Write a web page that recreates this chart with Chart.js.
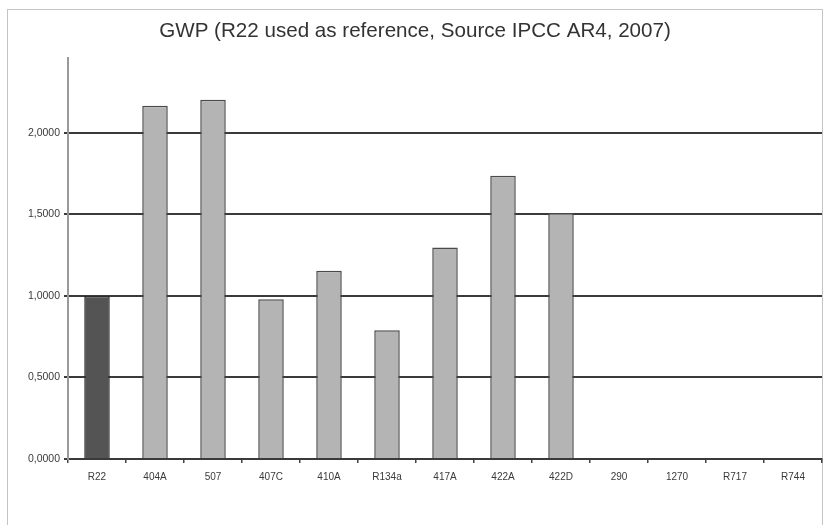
<!DOCTYPE html>
<html>
<head>
<meta charset="utf-8">
<script src="https://cdn.jsdelivr.net/npm/chart.js@4.4.0/dist/chart.umd.min.js"></script>
<style>
    html, body { margin: 0; padding: 0; background: #fff; overflow: hidden; }
    #wrap { position: relative; width: 832px; height: 525px; }
    #frame {
        position: absolute; left: 7px; top: 9px; width: 814px; height: 600px;
        border: 1.5px solid #c4c4c4; border-bottom: none;
    }
    #chart { position: absolute; left: 0; top: 0; }
</style>
</head>
<body>
<div id="wrap">
    <div id="frame"></div>
    <canvas id="chart" width="832" height="525"></canvas>
</div>
<script>
// Refrigerants, GWP relative to R22
const categories = ['R22', '404A', '507', '407C', '410A', 'R134a', '417A', '422A', '422D', '290', '1270', 'R717', 'R744'];
const gwpValues = [1.0, 2.166, 2.202, 0.98, 1.154, 0.79, 1.296, 1.736, 1.508, 0, 0, 0, 0];
const yTicks = [0, 0.5, 1.0, 1.5, 2.0];

const chartTitle = 'GWP (R22 used as reference, Source IPCC AR4, 2007)';

const ctx = document.getElementById('chart').getContext('2d');
new Chart(ctx, {
    type: 'bar',
    data: {
        labels: categories,
        datasets: [{
            data: gwpValues,
            backgroundColor: c => c.dataIndex === 0 ? '#545454' : '#b4b4b4',
            borderColor: c => c.dataIndex === 0 ? '#2a2a2a' : '#4a4a4a',
            borderWidth: 1.5,
            barPercentage: 1,
            categoryPercentage: 0.44
        }]
    },
    options: {
        responsive: false,
        animation: false,
        layout: { padding: { left: 8, right: 10, top: 0, bottom: 0 } },
        plugins: {
            legend: { display: false },
            tooltip: { enabled: false },
            title: {
                display: true,
                text: chartTitle,
                color: '#333',
                font: { family: 'Liberation Sans', size: 20.6, weight: 'normal', lineHeight: 1.2 },
                padding: { top: 19, bottom: 14 }
            }
        },
        scales: {
            x: {
                grid: {
                    display: true,
                    drawOnChartArea: false,
                    drawTicks: true,
                    tickLength: 4,
                    color: '#444',
                    lineWidth: 1.5,
                    offset: true
                },
                border: { display: true, color: '#3a3a3a', width: 2 },
                ticks: {
                    color: '#3a3a3a',
                    padding: 8,
                    maxRotation: 0,
                    autoSkip: false,
                    font: { family: 'Liberation Sans', size: 10 }
                },
                afterFit: s => { s.height = 66; }
            },
            y: {
                min: 0,
                max: 2.46,
                afterBuildTicks: s => { s.ticks = yTicks.map(v => ({ value: v })); },
                grid: {
                    color: '#3a3a3a',
                    lineWidth: 2,
                    tickLength: 4
                },
                border: { display: true, color: '#9a9a9a', width: 2 },
                ticks: {
                    color: '#3a3a3a',
                    padding: 4,
                    font: { family: 'Liberation Sans', size: 10.5 },
                    callback: v => v.toFixed(4).replace('.', ',')
                },
                afterFit: s => { s.width = 60; }
            }
        }
    }
});
</script>
</body>
</html>
